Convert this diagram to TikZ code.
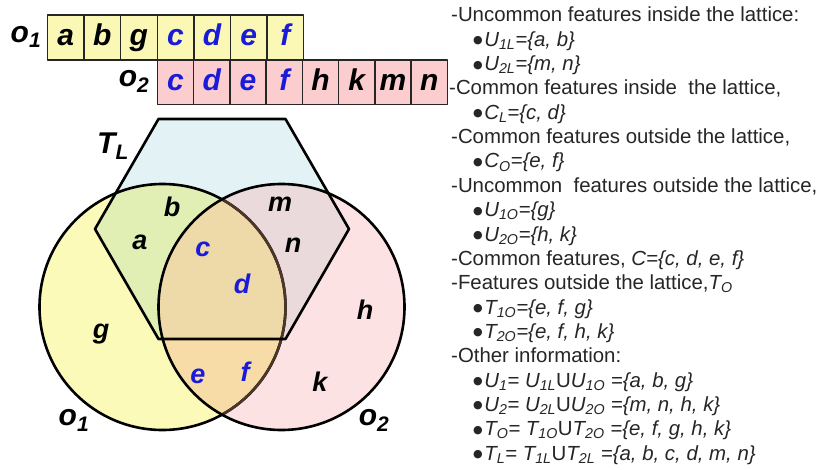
\documentclass[tikz,border=0pt]{standalone}
\usepackage{fontspec}
\setmainfont{Liberation Sans}
\newfontfamily\symfont{DejaVu Sans}
\definecolor{txt}{HTML}{262626}
\definecolor{featblue}{HTML}{1A1AD9}
\definecolor{celly}{HTML}{FBF8B6}
\definecolor{cellp}{HTML}{FCCDCE}
\definecolor{oneonly}{HTML}{FBFAB9}
\definecolor{twoonly}{HTML}{FCE2E2}
\definecolor{lattice}{HTML}{E3F3F5}
\definecolor{lensout}{HTML}{F8DCA8}
\definecolor{lensin}{HTML}{EED9A8}
\definecolor{latone}{HTML}{E1EFB5}
\definecolor{lattwo}{HTML}{EBDADB}
\definecolor{arcbrown}{HTML}{4B3628}
\newcommand\cellfont{\fontsize{30}{36}\selectfont\bfseries\itshape}
\newcommand\vennfont{\fontsize{27}{30}\selectfont\bfseries\itshape}
\newcommand\listfont{\fontsize{20.4}{24}\selectfont}
\newcommand\sub[1]{\textsubscript{#1}}
\newcommand\dotmark{\raisebox{2.5pt}{\symfont\fontsize{11}{12}\selectfont●}\hspace{1.5pt}}
\tikzset{
  cell/.style={draw=black!85, line width=1.4pt, minimum height=44.8pt,
    inner sep=0pt, text height=22pt, text depth=6pt, font=\cellfont, anchor=north west},
  ycell/.style={cell, fill=celly, minimum width=36.6pt},
  pcell/.style={cell, fill=cellp, minimum width=36.25pt},
  shared/.style={text=featblue},
  vlabel/.style={inner sep=0pt, text height=19pt, text depth=6pt, font=\vennfont},
  setname/.style={inner sep=0pt, font=\cellfont},
  outline/.style={line width=2.6pt},
  heading/.style={anchor=base west, inner sep=0pt, font=\listfont, text=txt},
  item/.style={heading}
}
\begin{document}
\begin{tikzpicture}[x=1pt, y=-1pt, line join=round]
\path[fill=white, use as bounding box] (0,0) rectangle (818,470);

% feature strips of the two objects
\foreach \ch [count=\i from 0] in {a,b,g}
  \node[ycell] (r1\ch) at (46.7+36.6*\i, 14.5) {\ch};
\foreach \ch [count=\i from 3] in {c,d,e,f}
  \node[ycell, shared] (r1\ch) at (46.7+36.6*\i, 14.5) {\ch};
\foreach \ch [count=\i from 0] in {c,d,e,f}
  \node[pcell, shared] (r2\ch) at (156.7+36.25*\i, 59.3) {\ch};
\foreach \ch [count=\i from 4] in {h,k,m,n}
  \node[pcell] (r2\ch) at (156.7+36.25*\i, 59.3) {\ch};
\node[setname] (o1top) at (26,37) {o\sub{1}};
\node[setname] (o2top) at (134,81) {o\sub{2}};

% Venn diagram: two objects and the lattice hexagon
\coordinate (c1) at (162.5,307);
\coordinate (c2) at (281.5,307);
\def\R{123pt}
\coordinate (h1) at (158.5,119);
\coordinate (h2) at (285.5,119);
\coordinate (h3) at (349,229);
\coordinate (h4) at (285.5,339);
\coordinate (h5) at (158.5,339);
\coordinate (h6) at (95,229);

\fill[oneonly] (c1) circle[radius=\R];
\fill[twoonly] (c2) circle[radius=\R];
\begin{scope}
  \clip (c1) circle[radius=\R];
  \fill[lensout] (c2) circle[radius=\R];
\end{scope}
\fill[lattice] (h1)--(h2)--(h3)--(h4)--(h5)--(h6)--cycle;
\begin{scope}
  \clip (h1)--(h2)--(h3)--(h4)--(h5)--(h6)--cycle;
  \fill[latone] (c1) circle[radius=\R];
  \fill[lattwo] (c2) circle[radius=\R];
  \clip (c1) circle[radius=\R];
  \fill[lensin] (c2) circle[radius=\R];
\end{scope}

\draw[outline] (c1) circle[radius=\R];
\begin{scope}
  \clip (c2) circle[radius=\R];
  \draw[outline, arcbrown] (c1) circle[radius=\R];
\end{scope}
\draw[outline] (c2) circle[radius=\R];
\draw[outline] (h1)--(h2)--(h3)--(h4)--(h5)--(h6)--cycle;

\node[setname] (tl) at (113,146) {T\sub{L}};
\node[vlabel] (vb) at (172,210) {b};
\node[vlabel] (vm) at (280,205) {m};
\node[vlabel] (va) at (140,243) {a};
\node[vlabel, shared] (vc) at (203,250) {c};
\node[vlabel] (vn) at (293,246) {n};
\node[vlabel, shared] (vd) at (242,287) {d};
\node[vlabel] (vh) at (365,313) {h};
\node[vlabel] (vg) at (101,332) {g};
\node[vlabel, shared] (ve) at (198,377) {e};
\node[vlabel, shared] (vf) at (245,375) {f};
\node[vlabel] (vk) at (320,385) {k};
\node[setname] (o1) at (74,420) {o\sub{1}};
\node[setname] (o2) at (374,420) {o\sub{2}};

% listing of the feature sets
\node[heading] (t1)  at (451, 22.0) {-Uncommon features inside the lattice:};
\node[item]    (t2)  at (473, 46.3) {\dotmark\textit{U\sub{1L}=\{a, b\}}};
\node[item]    (t3)  at (473, 70.7) {\dotmark\textit{U\sub{2L}=\{m, n\}}};
\node[heading] (t4)  at (449, 95.0) {-Common features inside\ \ the lattice,};
\node[item]    (t5)  at (473,119.3) {\dotmark\textit{C\sub{L}=\{c, d\}}};
\node[heading] (t6)  at (451,143.7) {-Common features outside the lattice,};
\node[item]    (t7)  at (473,168.0) {\dotmark\textit{C\sub{O}=\{e, f\}}};
\node[heading] (t8)  at (451,192.3) {-Uncommon\ \ features outside the lattice,};
\node[item]    (t9)  at (473,216.7) {\dotmark\textit{U\sub{1O}=\{g\}}};
\node[item]    (t10) at (473,241.0) {\dotmark\textit{U\sub{2O}=\{h, k\}}};
\node[heading] (t11) at (451,265.3) {-Common features, \textit{C=\{c, d, e, f\}}};
\node[heading] (t12) at (451,289.7) {-Features outside the lattice,\textit{T\sub{O}}};
\node[item]    (t13) at (473,314.0) {\dotmark\textit{T\sub{1O}=\{e, f, g\}}};
\node[item]    (t14) at (473,338.3) {\dotmark\textit{T\sub{2O}=\{e, f, h, k\}}};
\node[heading] (t15) at (451,362.7) {-Other information:};
\node[item]    (t16) at (473,387.0) {\dotmark\textit{U\sub{1}= U\sub{1L}}U\textit{U\sub{1O} =\{a, b, g\}}};
\node[item]    (t17) at (473,411.3) {\dotmark\textit{U\sub{2}= U\sub{2L}}U\textit{U\sub{2O} =\{m, n, h, k\}}};
\node[item]    (t18) at (473,435.7) {\dotmark\textit{T\sub{O}= T\sub{1O}}U\textit{T\sub{2O} =\{e, f, g, h, k\}}};
\node[item]    (t19) at (473,460.0) {\dotmark\textit{T\sub{L}= T\sub{1L}}U\textit{T\sub{2L} =\{a, b, c, d, m, n\}}};
\end{tikzpicture}
\end{document}
